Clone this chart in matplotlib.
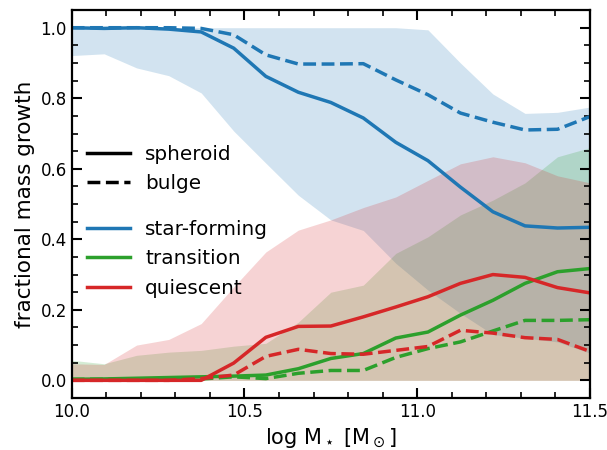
import matplotlib
matplotlib.use('Agg')
from matplotlib import pyplot as plt
from matplotlib.ticker import MultipleLocator, FormatStrFormatter
from matplotlib.lines import Line2D

# stellar mass bin centres
logm = [10.0, 10.094, 10.188, 10.281, 10.375, 10.469, 10.562, 10.656, 10.75,
        10.844, 10.938, 11.031, 11.125, 11.219, 11.312, 11.406, 11.5]

# star-forming
sf_sph = [1.0, 0.998, 1.0, 0.996, 0.988, 0.942, 0.862, 0.817, 0.788, 0.744,
          0.675, 0.623, 0.548, 0.478, 0.438, 0.432, 0.434]
sf_bul = [1.0, 1.0, 1.0, 1.0, 0.998, 0.98, 0.923, 0.897, 0.897, 0.898,
          0.852, 0.81, 0.758, 0.732, 0.71, 0.712, 0.748]
sf_lo = [0.921, 0.926, 0.886, 0.864, 0.815, 0.707, 0.616, 0.525, 0.455, 0.425,
         0.332, 0.256, 0.19, 0.13, 0.12, 0.109, 0.077]
sf_hi = [1.0, 1.0, 1.0, 1.0, 1.0, 1.0, 1.0, 1.0, 1.0, 1.0,
         1.0, 0.994, 0.9, 0.812, 0.757, 0.76, 0.775]

# transition
tr_sph = [0.003, 0.004, 0.006, 0.008, 0.01, 0.012, 0.015, 0.033, 0.062, 0.076,
          0.12, 0.137, 0.185, 0.227, 0.275, 0.308, 0.317]
tr_bul = [0.003, 0.003, 0.003, 0.003, 0.004, 0.01, 0.005, 0.02, 0.028, 0.028,
          0.065, 0.09, 0.109, 0.14, 0.17, 0.17, 0.172]
tr_lo = [0.0] * 17
tr_hi = [0.057, 0.047, 0.071, 0.08, 0.085, 0.097, 0.105, 0.165, 0.25, 0.27,
         0.36, 0.407, 0.469, 0.511, 0.56, 0.634, 0.66]

# quiescent
qu_sph = [0.0, 0.0, 0.0, 0.0, 0.0, 0.049, 0.122, 0.153, 0.154, 0.18,
          0.208, 0.237, 0.275, 0.30, 0.292, 0.263, 0.248]
qu_bul = [0.0, 0.0, 0.0, 0.0, 0.005, 0.015, 0.068, 0.088, 0.076, 0.074,
          0.085, 0.096, 0.142, 0.134, 0.121, 0.116, 0.082]
qu_lo = [0.0] * 17
qu_hi = [0.047, 0.045, 0.1, 0.116, 0.161, 0.265, 0.364, 0.426, 0.455, 0.49,
         0.52, 0.567, 0.614, 0.634, 0.617, 0.58, 0.56]

groups = [
    ('star-forming', 'tab:blue', sf_sph, sf_bul, sf_lo, sf_hi),
    ('transition', 'tab:green', tr_sph, tr_bul, tr_lo, tr_hi),
    ('quiescent', 'tab:red', qu_sph, qu_bul, qu_lo, qu_hi),
]

fig = plt.figure(figsize=(6.07, 4.5), dpi=100)
ax = fig.add_axes([0.118, 0.1156, 0.854, 0.862])

for name, c, sph, bul, lo, hi in groups:
    ax.fill_between(logm, lo, hi, color=c, alpha=0.2, linewidth=0)
for name, c, sph, bul, lo, hi in groups:
    ax.plot(logm, sph, color=c, lw=2.5)
    ax.plot(logm, bul, color=c, lw=2.5, ls='--')

ax.set_xlim(10.0, 11.5)
ax.set_ylim(-0.05, 1.05)
ax.xaxis.set_major_locator(MultipleLocator(0.5))
ax.xaxis.set_minor_locator(MultipleLocator(0.1))
ax.yaxis.set_major_locator(MultipleLocator(0.2))
ax.yaxis.set_minor_locator(MultipleLocator(0.05))
ax.xaxis.set_major_formatter(FormatStrFormatter('%.1f'))
ax.yaxis.set_major_formatter(FormatStrFormatter('%.1f'))
ax.tick_params(which='both', direction='in', top=True, right=True, labelsize=12)
ax.tick_params(which='major', length=7.5, width=1.5)
ax.tick_params(which='minor', length=4.5, width=1.2)
for s in ax.spines.values():
    s.set_linewidth(1.6)

ax.set_xlabel(r'log $\mathrm{M}_\star$ [$\mathrm{M}_\odot$]', fontsize=15)
ax.set_ylabel('fractional mass growth', fontsize=15.5)

h1 = [Line2D([], [], color='k', lw=2.5), Line2D([], [], color='k', lw=2.5, ls='--')]
leg1 = ax.legend(h1, ['spheroid', 'bulge'], loc='upper left', bbox_to_anchor=(0.03, 0.652),
                 frameon=False, fontsize=14.4, borderpad=0, borderaxespad=0,
                 handlelength=2.15, handletextpad=0.75, labelspacing=0.52)
ax.add_artist(leg1)
h2 = [Line2D([], [], color=c, lw=2.5) for _, c, *_ in groups]
ax.legend(h2, [g[0] for g in groups], loc='upper left', bbox_to_anchor=(0.03, 0.459),
          frameon=False, fontsize=14.4, borderpad=0, borderaxespad=0,
          handlelength=2.15, handletextpad=0.75, labelspacing=0.52)

fig.savefig('out.png')
